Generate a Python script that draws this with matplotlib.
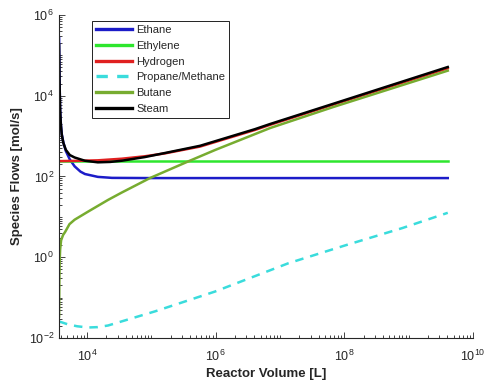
import matplotlib
matplotlib.use("Agg")
import matplotlib.pyplot as plt
from matplotlib.ticker import LogLocator, FixedLocator, NullFormatter

plt.rcParams['font.family'] = ['Liberation Sans', 'DejaVu Sans']

# Reactor volume [L] and species flows [mol/s]
vol_ethane = [3700, 3758, 3837, 3945, 4074, 4315, 4710, 5433, 6457, 7943,
              9333, 14790, 24550, 1e5, 4.07e9]
flow_ethane = [2.69e5, 2.82e4, 4786, 1995, 1122, 692, 427, 263, 178, 132,
               115, 97.7, 92.3, 91.2, 91.2]

vol_ethylene = [3700, 4.07e9]
flow_ethylene = [238, 238]

vol_hydrogen = [3700, 6457, 14790, 34670, 79430, 162200, 575400, 4.07e6,
                7.08e6, 6.76e7, 4.07e9]
flow_hydrogen = [240, 243, 251, 275, 316, 372, 550, 1413, 1905, 6026, 47860]

vol_propane = [3700, 5012, 7079, 10470, 14790, 21380, 39810, 114800,
               977200, 1.35e7, 1.02e8, 7.94e8, 4.07e9]
flow_propane = [0.0257, 0.0219, 0.0195, 0.0182, 0.0186, 0.0204, 0.0275,
                0.0457, 0.141, 0.708, 1.95, 5.25, 12.6]

vol_butane = [3700, 3733, 3776, 3846, 3981, 4266, 4571, 5370, 6457, 10470,
              21380, 34670, 95500, 371500, 1e6, 7.08e6, 6.76e7, 4.07e9]
flow_butane = [0.034, 0.25, 0.79, 1.58, 2.63, 3.55, 4.17, 6.6, 8.5, 13.5,
               26.3, 39.8, 91.2, 234, 457, 1585, 5248, 41690]

vol_steam = [3698, 3758, 3837, 3945, 4074, 4315, 4710, 5433, 6457, 9333,
             14790, 22910, 34670, 79430, 162200, 575400, 4.07e6, 7.08e6,
             6.76e7, 4.07e9]
flow_steam = [1.82e5, 2.45e4, 4467, 1905, 1072, 676, 457, 339, 295, 245,
              224, 229, 245, 302, 380, 575, 1479, 1995, 6310, 51300]

species = ["Ethane", "Ethylene", "Hydrogen", "Propane/Methane", "Butane", "Steam"]
x_ticks = [1e4, 1e6, 1e8, 1e10]
y_ticks = [1e-2, 1e0, 1e2, 1e4, 1e6]

axis_gray = "#262626"

fig = plt.figure(figsize=(4.87, 3.83), dpi=100)
ax = fig.add_axes([0.121, 0.1175, 0.850, 0.8435])

lw = 1.8
ax.plot(vol_ethane, flow_ethane, color="#1c1cc8", lw=lw, label=species[0])
ax.plot(vol_ethylene, flow_ethylene, color="#2ee62e", lw=lw, label=species[1])
ax.plot(vol_hydrogen, flow_hydrogen, color="#e02020", lw=lw, label=species[2])
ax.plot(vol_propane, flow_propane, color="#3adcdc", lw=lw, ls=(0, (3.4, 2.8)),
        label=species[3])
ax.plot(vol_butane, flow_butane, color="#77ac30", lw=lw, label=species[4])
ax.plot(vol_steam, flow_steam, color="black", lw=lw, label=species[5])

ax.set_xscale("log")
ax.set_yscale("log")
ax.set_xlim(3680, 1e10)
ax.set_ylim(1e-2, 1e6)

ax.xaxis.set_major_locator(FixedLocator(x_ticks))
ax.yaxis.set_major_locator(FixedLocator(y_ticks))
ax.xaxis.set_minor_locator(LogLocator(base=10, subs=range(1, 10), numticks=100))
ax.yaxis.set_minor_locator(LogLocator(base=10, subs=range(1, 10), numticks=100))
ax.xaxis.set_minor_formatter(NullFormatter())
ax.yaxis.set_minor_formatter(NullFormatter())

for s in ("top", "right"):
    ax.spines[s].set_visible(False)
for s in ("left", "bottom"):
    ax.spines[s].set_color(axis_gray)
    ax.spines[s].set_linewidth(0.8)

ax.tick_params(which="both", direction="in", colors=axis_gray, labelsize=9,
               width=0.6)
ax.tick_params(which="major", length=4)
ax.tick_params(which="minor", length=2)
ax.tick_params(axis="x", pad=8)

ax.set_xlabel("Reactor Volume [L]", fontsize=9.5, fontweight="bold",
              color=axis_gray, labelpad=3)
ax.set_ylabel("Species Flows [mol/s]", fontsize=9.5, fontweight="bold",
              color=axis_gray, labelpad=4)

leg = ax.legend(loc="upper left", bbox_to_anchor=(0.0797, 0.981), fontsize=8,
                frameon=True, fancybox=False, framealpha=1, edgecolor="#222222",
                handlelength=3.3, handletextpad=0.35, labelspacing=0.52,
                borderpad=0.35, borderaxespad=0)
leg.get_frame().set_linewidth(0.7)
for line in leg.get_lines():
    line.set_linewidth(2.4)
for t in leg.get_texts():
    t.set_color(axis_gray)

fig.savefig("out.png", dpi=100)
